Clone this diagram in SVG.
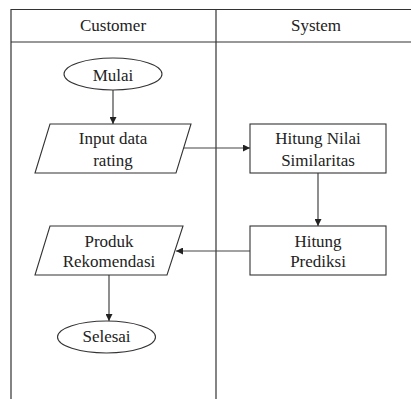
<svg xmlns="http://www.w3.org/2000/svg" width="411" height="399" viewBox="0 0 411 399">
  <defs>
    <style>
      .lane { fill: none; stroke: #333; stroke-width: 1.2; }
      .shape { fill: #fff; stroke: #333; stroke-width: 1.1; }
      .edge { fill: none; stroke: #444; stroke-width: 1.2; }
      text { font-family: 'Liberation Serif', 'Times New Roman', serif; font-size: 17px; fill: #222; text-anchor: middle; }
    </style>
    <marker id="arrow" viewBox="0 0 10 10" refX="10" refY="5" markerWidth="7" markerHeight="7" markerUnits="userSpaceOnUse" orient="auto">
      <path d="M0,0 L10,5 L0,10 Z" fill="#222"/>
    </marker>
  </defs>

  <rect width="411" height="399" fill="#fff"/>

  <!-- swimlanes -->
  <g id="lanes">
    <path class="lane" d="M11,399 V9.5 H411"/>
    <path class="lane" d="M11,42 H411"/>
    <path class="lane" d="M216,9.5 V399"/>
    <text x="113" y="31">Customer</text>
    <text x="316" y="31">System</text>
  </g>

  <!-- connectors -->
  <g id="connectors">
    <path class="edge" d="M113,90 V124" marker-end="url(#arrow)"/>
    <path class="edge" d="M183,148 H250" marker-end="url(#arrow)"/>
    <path class="edge" d="M318,173 V226" marker-end="url(#arrow)"/>
    <path class="edge" d="M250,251 H176" marker-end="url(#arrow)"/>
    <path class="edge" d="M109,275 V321" marker-end="url(#arrow)"/>
  </g>

  <g id="mulai">
    <ellipse class="shape" cx="113" cy="74" rx="49" ry="16"/>
    <text x="113" y="80.5">Mulai</text>
  </g>

  <g id="input-data">
    <polygon class="shape" points="50,124 191,124 176,173 35,173"/>
    <text x="113" y="144">Input data</text>
    <text x="113" y="166">rating</text>
  </g>

  <g id="hitung-similaritas">
    <rect class="shape" x="250" y="124" width="136" height="49"/>
    <text x="318" y="144">Hitung Nilai</text>
    <text x="318" y="166">Similaritas</text>
  </g>

  <g id="hitung-prediksi">
    <rect class="shape" x="250" y="226" width="136" height="49"/>
    <text x="318" y="246.5">Hitung</text>
    <text x="318" y="267">Prediksi</text>
  </g>

  <g id="produk-rekomendasi">
    <polygon class="shape" points="50,226 183,226 167,275 35,275"/>
    <text x="109" y="246.5">Produk</text>
    <text x="109" y="267">Rekomendasi</text>
  </g>

  <g id="selesai">
    <ellipse class="shape" cx="106.5" cy="337" rx="49" ry="16"/>
    <text x="106.5" y="342">Selesai</text>
  </g>
</svg>
